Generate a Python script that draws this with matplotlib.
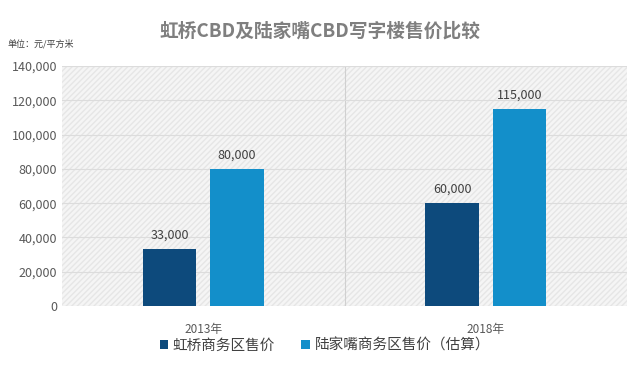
import matplotlib
matplotlib.use('Agg')
import matplotlib.pyplot as plt
from matplotlib.patches import Rectangle
from matplotlib.ticker import FuncFormatter

plt.rcParams['font.family'] = ['Noto Sans CJK SC', 'DejaVu Sans']

# Datos
anios = ['2013年', '2018年']
series = ['虹桥商务区售价', '陆家嘴商务区售价（估算）']
hongqiao = [33000, 60000]
lujiazui = [80000, 115000]
colores = ['#0d4a7c', '#138fca']

fig = plt.figure(figsize=(6.4, 3.66), dpi=100)
ax = fig.add_axes([62 / 640, 60 / 366, 565 / 640, 240 / 366])

# fondo rayado gris claro
ax.set_facecolor('#f5f5f5')
ax.add_patch(Rectangle((0, 0), 1, 1, transform=ax.transAxes, facecolor='none',
                       edgecolor='#e6e6e6', hatch='//////', linewidth=0, zorder=0))

ancho = 0.19
desp = 0.119
x = range(len(anios))
b1 = ax.bar([i - desp for i in x], hongqiao, ancho, color=colores[0], label=series[0], zorder=3)
b2 = ax.bar([i + desp for i in x], lujiazui, ancho, color=colores[1], label=series[1], zorder=3)

for barras in (b1, b2):
    for b in barras:
        ax.text(b.get_x() + b.get_width() / 2, b.get_height() + 4500, f'{int(b.get_height()):,}',
                ha='center', va='bottom', fontsize=9, color='#404040', zorder=4)

ax.set_xlim(-0.5, 1.5)
ax.set_ylim(0, 140000)
ax.set_yticks(range(0, 140001, 20000))
ax.yaxis.set_major_formatter(FuncFormatter(lambda v, p: f'{int(v):,}'))
ax.set_xticks(list(x))
ax.set_xticklabels(anios)
ax.axvline(0.5, color='#d0d0d0', linewidth=0.8, zorder=1)
ax.grid(axis='y', color='#dcdcdc', linewidth=0.8, zorder=1)
ax.tick_params(axis='both', length=0, labelsize=9, colors='#595959')
ax.tick_params(axis='x', pad=12, labelsize=8.5)
for s in ax.spines.values():
    s.set_visible(False)

fig.text(0.5, 0.915, '虹桥CBD及陆家嘴CBD写字楼售价比较', ha='center', va='center',
         fontsize=13.5, fontweight='bold', color='#7f7f7f')
fig.text(8 / 640, 1 - 44 / 366, '单位：元/平方米', ha='left', va='center', fontsize=6.5, color='#404040')

ax.legend(loc='center left', bbox_to_anchor=(0.16, -0.165), ncol=2, frameon=False,
          fontsize=10.5, handlelength=0.6, handleheight=0.6, handletextpad=0.3,
          columnspacing=1.8, labelcolor='#404040', borderpad=0)

fig.savefig('out.png', dpi=100)
